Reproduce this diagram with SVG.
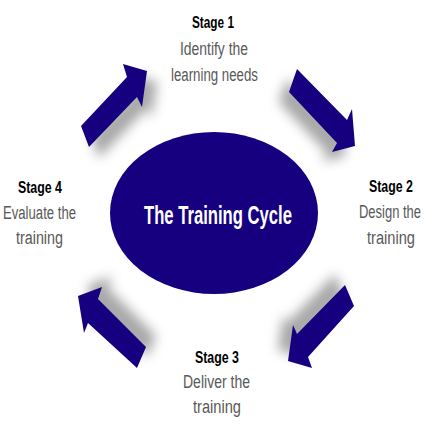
<svg xmlns="http://www.w3.org/2000/svg" width="427" height="427" viewBox="0 0 427 427">
<defs>
<filter id="blur" x="-50%" y="-50%" width="200%" height="200%">
<feGaussianBlur stdDeviation="6"/>
</filter>
</defs>
<style>
.arrow{fill:#170080}
.shadow{fill:#8a8a8a;opacity:0.75;filter:url(#blur)}
.stage{font-family:"Liberation Sans",Arial,sans-serif;font-weight:bold;font-size:17px;fill:#000;text-anchor:middle}
.desc{font-family:"Liberation Sans",Arial,sans-serif;font-size:18px;fill:#595959;text-anchor:middle}
.title{font-family:"Liberation Sans",Arial,sans-serif;font-weight:bold;font-size:26px;fill:#fff;text-anchor:middle}
</style>
<rect width="427" height="427" fill="#fff"/>
<g id="connectors">
<g class="shadows">
<polygon class="shadow" transform="translate(10,11)" points="81,126 127,77 123,64 147,71 142,107 137,97 89,147"/>
<polygon class="shadow" transform="translate(-10,10)" points="297,69 347,120 352,109 355,146 332,152 337,143 289,92"/>
<polygon class="shadow" transform="translate(-10,-11)" points="345,285 354,306 308,357 312,368 288,361 293,325 297,334"/>
<polygon class="shadow" transform="translate(10,-11)" points="78,296 102,287 98,299 146,347 137,368 88,323 84,333"/>
</g>
<polygon id="arrow1" class="arrow" points="81,126 127,77 123,64 147,71 142,107 137,97 89,147"/>
<polygon id="arrow2" class="arrow" points="297,69 347,120 352,109 355,146 332,152 337,143 289,92"/>
<polygon id="arrow3" class="arrow" points="345,285 354,306 308,357 312,368 288,361 293,325 297,334"/>
<polygon id="arrow4" class="arrow" points="78,296 102,287 98,299 146,347 137,368 88,323 84,333"/>
</g>
<g id="center">
<ellipse cx="214" cy="213" rx="104" ry="81" fill="#170080"/>
<text class="title" x="218" y="224" textLength="148" lengthAdjust="spacingAndGlyphs">The Training Cycle</text>
</g>
<g id="stage1">
<text class="stage" x="213" y="28" textLength="42" lengthAdjust="spacingAndGlyphs">Stage 1</text>
<text class="desc" x="214" y="55" textLength="68" lengthAdjust="spacingAndGlyphs">Identify the</text>
<text class="desc" x="214.5" y="81" textLength="87" lengthAdjust="spacingAndGlyphs">learning needs</text>
</g>
<g id="stage2">
<text class="stage" x="391" y="192" textLength="44" lengthAdjust="spacingAndGlyphs">Stage 2</text>
<text class="desc" x="390" y="218" textLength="62" lengthAdjust="spacingAndGlyphs">Design the</text>
<text class="desc" x="391" y="244" textLength="48" lengthAdjust="spacingAndGlyphs">training</text>
</g>
<g id="stage3">
<text class="stage" x="217" y="363" textLength="44" lengthAdjust="spacingAndGlyphs">Stage 3</text>
<text class="desc" x="216.5" y="388" textLength="67" lengthAdjust="spacingAndGlyphs">Deliver the</text>
<text class="desc" x="217" y="413" textLength="48" lengthAdjust="spacingAndGlyphs">training</text>
</g>
<g id="stage4">
<text class="stage" x="40" y="193" textLength="44" lengthAdjust="spacingAndGlyphs">Stage 4</text>
<text class="desc" x="39.5" y="219" textLength="73" lengthAdjust="spacingAndGlyphs">Evaluate the</text>
<text class="desc" x="39.5" y="244" textLength="47" lengthAdjust="spacingAndGlyphs">training</text>
</g>
</svg>
